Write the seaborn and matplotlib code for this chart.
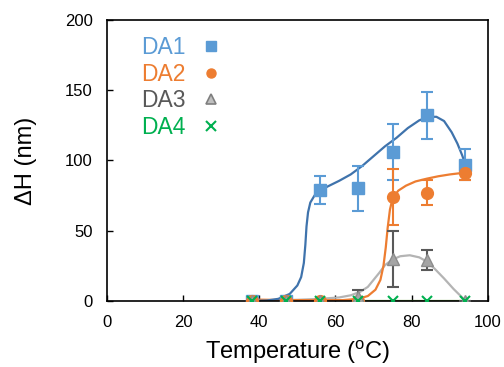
import numpy as np
import pandas as pd
import matplotlib
matplotlib.use('Agg')
import matplotlib.pyplot as plt
import seaborn as sns

sns.set_style('ticks')
plt.rcParams['font.family'] = ['Liberation Sans', 'DejaVu Sans']
plt.rcParams['mathtext.fontset'] = 'custom'
plt.rcParams['mathtext.rm'] = 'Liberation Sans'
plt.rcParams['text.color'] = 'black'
plt.rcParams['axes.labelcolor'] = 'black'

# measured points
temp = [38, 47, 56, 66, 75, 84, 94]
da1 = [0, 0, 79, 80, 106, 132, 97]
da1_err = [0, 0, 10, 16, 20, 17, 11]
da2 = [0, 0, 0, 0, 74, 77, 91]
da2_err = [0, 0, 0, 0, 20, 9, 5]
da3 = [0, 0, 0, 3, 30, 29, 0]
da3_err = [0, 0, 0, 5, 20, 7, 0]
da4 = [0, 0, 0, 0, 0, 0, 0]

# fitted curves
fit1_x = [38, 42, 45, 48, 50, 51, 51.7, 52.1, 52.4, 52.8, 53.4, 54.5, 56, 58, 61, 64, 67, 70, 73, 76, 79, 82, 84.5, 86.5, 88.5, 90.5, 92, 93.2, 94]
fit1_y = [0, 0.3, 1.5, 5, 11, 17, 27, 40, 53, 63, 70, 75, 78.5, 81.5, 85.5, 90, 96, 103, 110, 116, 123, 128.5, 131, 131, 128, 120, 112, 104, 98]
fit2_x = [38, 45, 55, 62, 66, 68.5, 70.5, 71.8, 72.6, 73.2, 73.7, 74.3, 75, 76.5, 78.5, 81, 84, 87, 90, 94]
fit2_y = [1, 0.7, 0.5, 0.6, 1.5, 3.5, 8, 15, 25, 38, 52, 65, 73, 78.5, 82, 85, 87, 88.7, 90, 91.3]
fit3_x = [38, 45, 50, 56, 61, 64, 66.5, 68.5, 70, 71.5, 73, 75, 77, 79.5, 82, 84, 86, 88.5, 91, 94]
fit3_y = [0, 0.3, 0.8, 1.5, 2.5, 4, 6.5, 10, 15, 20, 25.5, 29.5, 31.8, 32.5, 31, 28, 23, 16, 8.5, 0.5]

blue = '#5B9BD5'
blue_line = '#3F73AC'
orange = '#ED7D31'
gray = '#A5A5A5'
gray_line = '#B4B4B4'
dark_gray = '#595959'
green = '#00B050'
green_line = '#70AD47'

fig = plt.figure(figsize=(5.04, 3.67), dpi=100)
ax = fig.add_axes([0.212, 0.180, 0.756, 0.766])

sns.lineplot(x=temp, y=da4, ax=ax, color=green_line, lw=1.6, sort=False, zorder=2)
sns.lineplot(x=fit3_x, y=fit3_y, ax=ax, color=gray_line, lw=1.6, sort=False, zorder=2)
sns.lineplot(x=fit2_x, y=fit2_y, ax=ax, color=orange, lw=1.6, sort=False, zorder=2)
sns.lineplot(x=fit1_x, y=fit1_y, ax=ax, color=blue_line, lw=1.6, sort=False, zorder=2)

ax.errorbar(temp, da1, yerr=da1_err, fmt='s', ms=8, color=blue, ecolor=blue,
            elinewidth=1.5, capsize=4.5, capthick=1.5, zorder=3)
ax.errorbar(temp, da2, yerr=da2_err, fmt='o', ms=8.5, color=orange, ecolor=orange,
            elinewidth=1.5, capsize=4.5, capthick=1.5, zorder=3)
ax.errorbar(temp, da3, yerr=da3_err, fmt='^', ms=8, color=gray, ecolor=dark_gray,
            mec='#8C8C8C', elinewidth=1.5, capsize=4.5, capthick=1.5, zorder=3)
ax.plot(temp, da4, 'x', ms=7, mew=1.5, color=green, zorder=4)

ax.set_xlim(0, 100)
ax.set_ylim(0, 200)
ax.set_xticks(range(0, 101, 20))
ax.set_yticks(range(0, 201, 50))
ax.tick_params(direction='in', length=4, width=1, labelsize=12, color='black',
               labelcolor='black', pad=10)
for s in ax.spines.values():
    s.set_linewidth(1.2)
    s.set_color('black')

ax.set_xlabel('Temperature ($^{\\mathregular{o}}$C)', fontsize=17, labelpad=6)
ax.set_ylabel('ΔH (nm)', fontsize=17, labelpad=20)

handles = [
    plt.Line2D([], [], ls='', marker='s', ms=6.5, color=blue),
    plt.Line2D([], [], ls='', marker='o', ms=6.5, color=orange),
    plt.Line2D([], [], ls='', marker='^', ms=6.5, color='#BFBFBF', mec='#7F7F7F', mew=1.2),
    plt.Line2D([], [], ls='', marker='x', ms=6.5, mew=1.5, color=green),
]
leg = ax.legend(handles, ['DA1', 'DA2', 'DA3', 'DA4'], loc='upper left',
                bbox_to_anchor=(0.035, 1.015), frameon=False, markerfirst=False,
                fontsize=16.5, handlelength=1.0, handletextpad=0.6, labelspacing=0.15,
                labelcolor=[blue, orange, dark_gray, green])

fig.savefig('out.png', dpi=100)
